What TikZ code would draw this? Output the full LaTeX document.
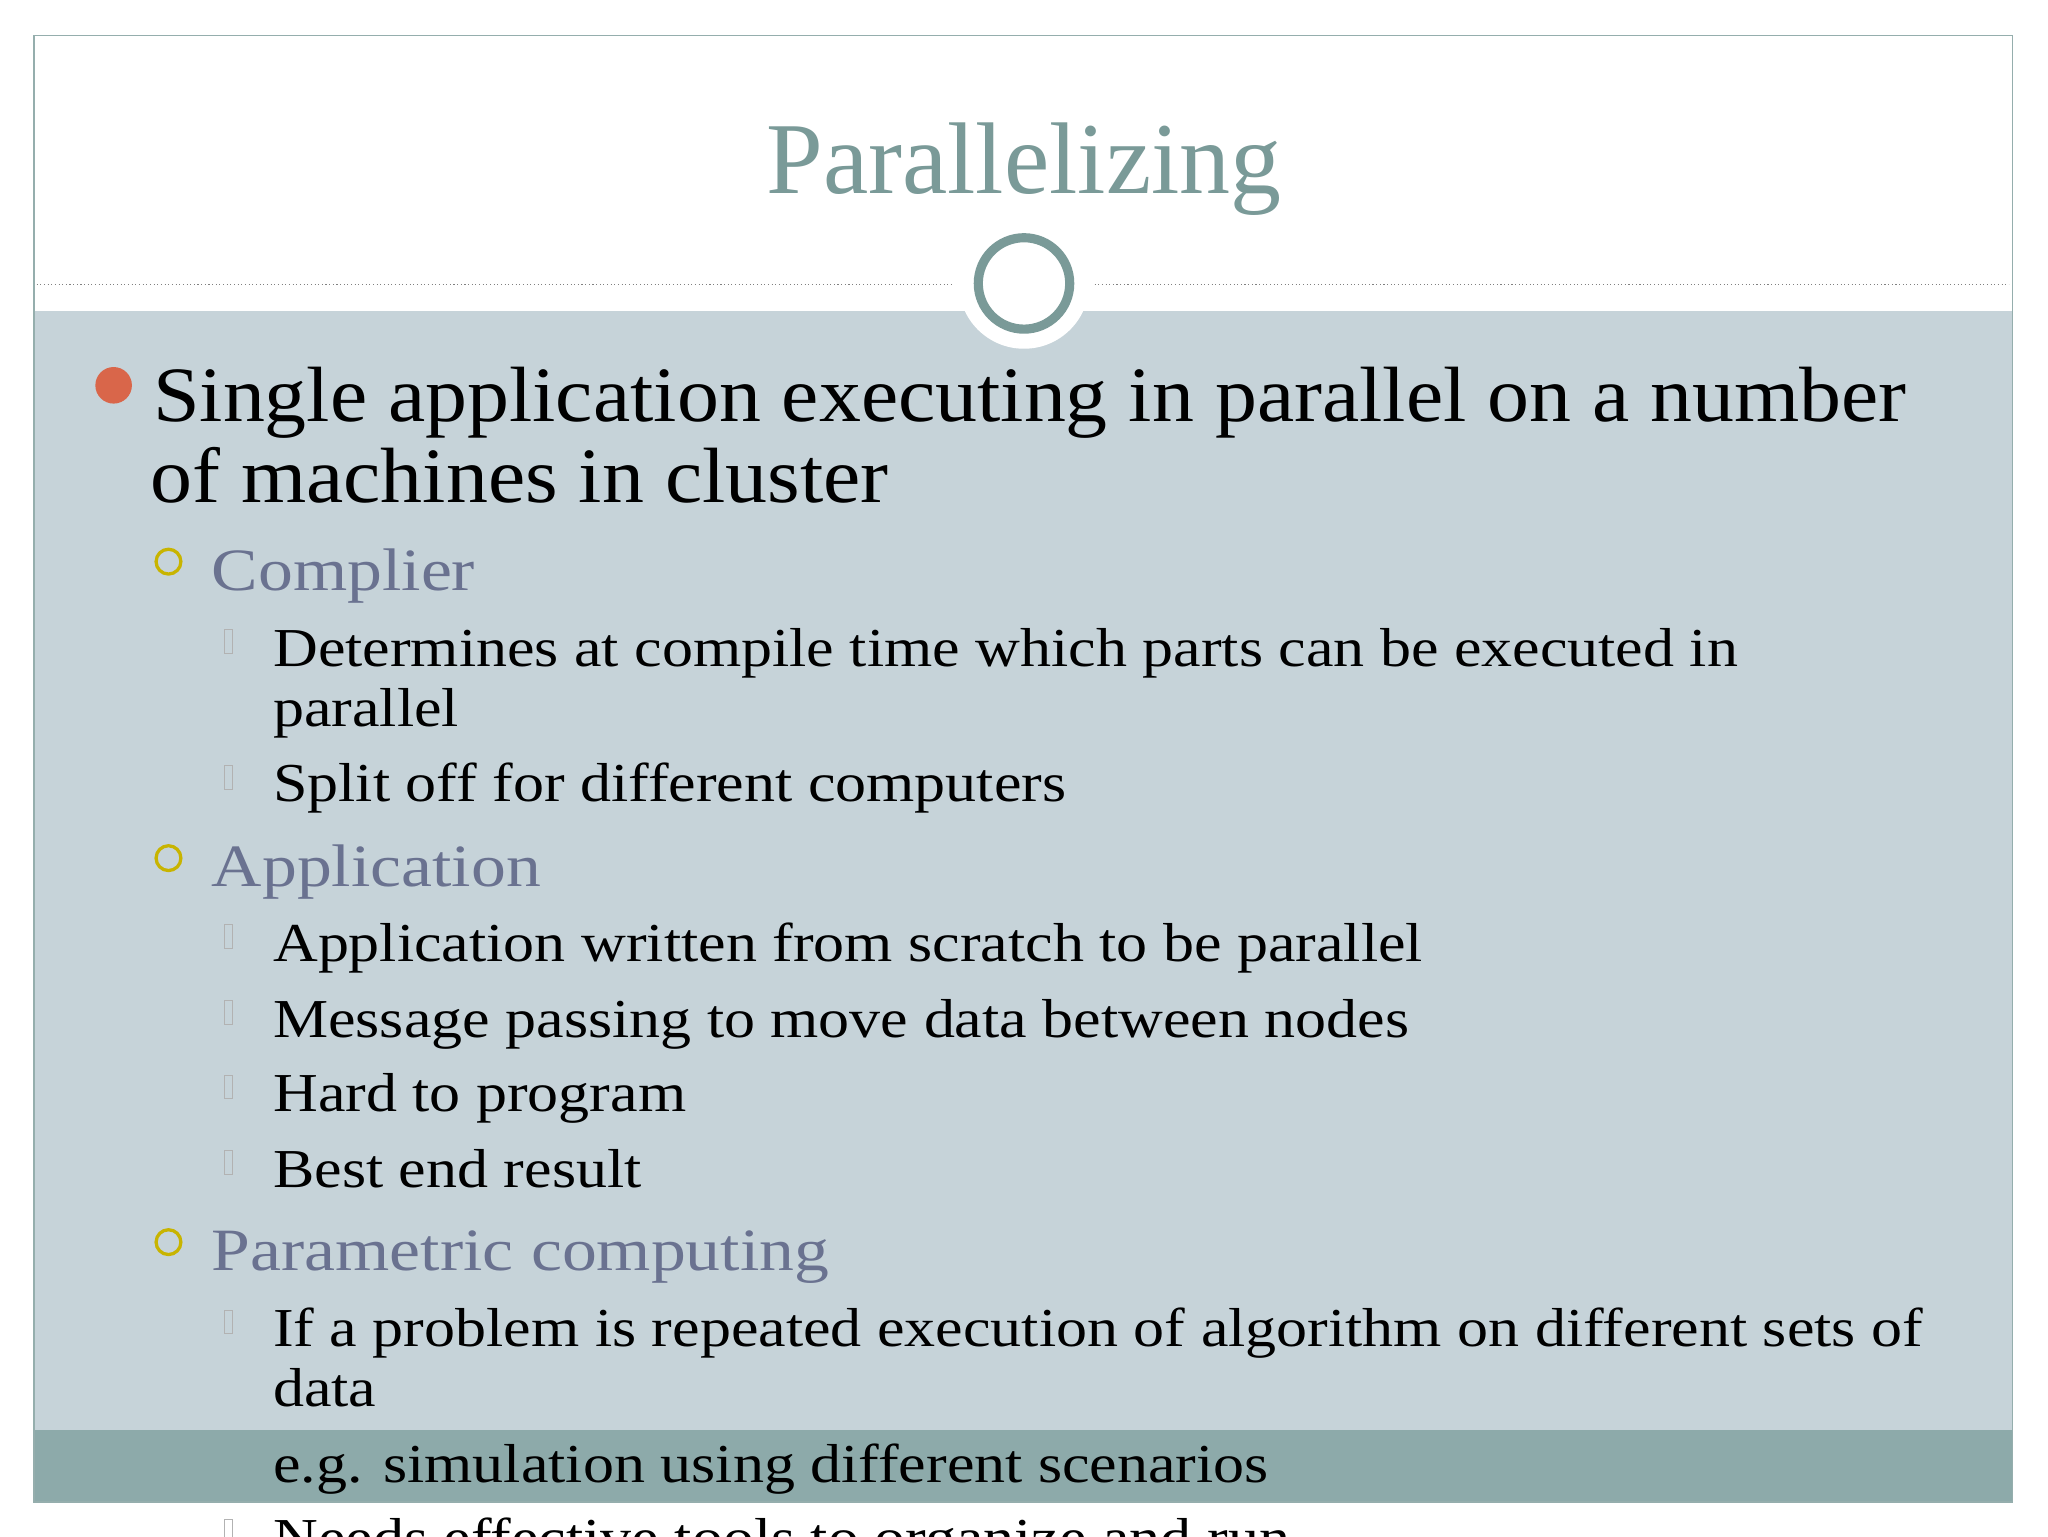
\documentclass[tikz,border=0pt]{standalone}
\usepackage{fontspec}
\setmainfont{Liberation Serif}
\newfontfamily\fone[FakeStretch=1.07]{Liberation Serif}
\newfontfamily\ftwo[FakeStretch=1.16]{Liberation Serif}
\newfontfamily\fthree[FakeStretch=1.13]{Liberation Serif}
\definecolor{panel}{HTML}{C6D3D9}
\definecolor{band}{HTML}{8DAAAA}
\definecolor{teal}{HTML}{7A9A98}
\definecolor{redb}{HTML}{D9664A}
\definecolor{yel}{HTML}{C8B400}
\definecolor{sub}{HTML}{6A7290}
\tikzset{
 lone/.style={anchor=base west,inner sep=0,font=\fone\fontsize{60}{60}\selectfont,text=black},
 ltwo/.style={anchor=base west,inner sep=0,font=\ftwo\fontsize{46}{46}\selectfont,text=sub},
 lthree/.style={anchor=base west,inner sep=0,font=\fthree\fontsize{42}{42}\selectfont,text=black},
 ybul/.style={draw=yel,line width=2.5pt,circle,minimum size=19pt,inner sep=0},
 tofu/.style={draw=gray!60,line width=0.6pt,minimum width=6pt,minimum height=18pt,inner sep=0}
}
\begin{document}
\begin{tikzpicture}[x=1pt,y=-1pt]
\useasboundingbox (0,0) rectangle (1568,1176);
\fill[white] (0,0) rectangle (1568,1176);
\fill[panel] (26,238) rectangle (1541,1095);
\fill[band] (26,1095) rectangle (1541,1150);
\draw[teal!80,line width=1pt] (26,27) rectangle (1541,1150);
\draw[gray,dotted,line width=0.8pt] (28,218) -- (730,218);
\draw[gray,dotted,line width=0.8pt] (838,218) -- (1538,218);
\fill[white] (784,217) circle (50);
\node[draw=teal,line width=7pt,circle,minimum size=70pt,inner sep=0,fill=white] (ring) at (784,217) {};
\node[anchor=base,inner sep=0,text=teal,font=\fontsize{78}{78}\selectfont] (title) at (784,148) {Parallelizing};
\node[circle,fill=redb,minimum size=28pt,inner sep=0] (rb) at (87,295) {};
\node[lone] (l1) at (117,323) {Single application executing in parallel on a number};
\node[lone] (l1b) at (115,385) {of machines in cluster};
\node[ybul] (b1) at (129,430) {};
\node[ltwo] (c1) at (162,452) {Complier};
\node[tofu] (t1) at (175,491) {};
\node[lthree] (a1) at (209,510) {Determines at compile time which parts can be executed in};
\node[lthree] (a1b) at (209,556) {parallel};
\node[tofu] (t2) at (175,595) {};
\node[lthree] (a2) at (209,614) {Split off for different computers};
\node[ybul] (b2) at (129,657) {};
\node[ltwo] (c2) at (162,679) {Application};
\node[tofu] (t3) at (175,717) {};
\node[lthree] (a3) at (209,736) {Application written from scratch to be parallel};
\node[tofu] (t4) at (175,775) {};
\node[lthree] (a4) at (209,794) {Message passing to move data between nodes};
\node[tofu] (t5) at (175,832) {};
\node[lthree] (a5) at (209,851) {Hard to program};
\node[tofu] (t6) at (175,890) {};
\node[lthree] (a6) at (209,909) {Best end result};
\node[ybul] (b3) at (129,951) {};
\node[ltwo] (c3) at (162,973) {Parametric computing};
\node[tofu] (t7) at (175,1012) {};
\node[lthree] (a7) at (209,1031) {If a problem is repeated execution of algorithm on different sets of};
\node[lthree] (a7b) at (209,1077) {data};
\node[lthree] (a8) at (209,1135) {e.g. simulation using different scenarios};
\begin{scope}
\clip (0,0) rectangle (1568,1176);
\node[tofu] (t8) at (175,1172) {};
\node[lthree] (a9) at (209,1192) {Needs effective tools to organize and run};
\end{scope}
\end{tikzpicture}
\end{document}
